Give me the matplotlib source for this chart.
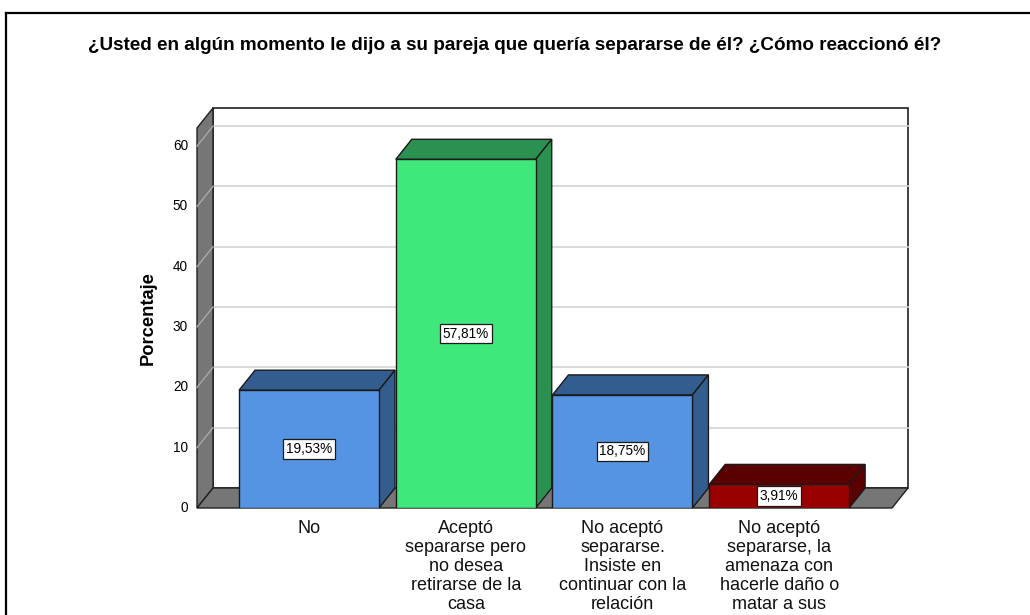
import matplotlib
matplotlib.use("Agg")
import matplotlib.pyplot as plt
from matplotlib.patches import Polygon, Rectangle
from matplotlib.transforms import ScaledTranslation

plt.rcParams['font.family'] = ['Liberation Sans', 'DejaVu Sans']

title = "¿Usted en algún momento le dijo a su pareja que quería separarse de él? ¿Cómo reaccionó él?"
categories = ["No",
              "Aceptó\nsepararse pero\nno desea\nretirarse de la\ncasa",
              "No aceptó\nsepararse.\nInsiste en\ncontinuar con la\nrelación",
              "No aceptó\nsepararse, la\namenaza con\nhacerle daño o\nmatar a sus"]
values = [19.53, 57.81, 18.75, 3.91]
value_labels = ["19,53%", "57,81%", "18,75%", "3,91%"]
yticks = [0, 10, 20, 30, 40, 50, 60]
ylabel = "Porcentaje"

front_colors = ["#5494E2", "#40E87C", "#5494E2", "#990000"]
dark_colors = ["#345D8F", "#2B9150", "#345D8F", "#5A0000"]

W, H = 1030, 615
fig = plt.figure(figsize=(W / 100, H / 100), dpi=100)

# frame border
fig.add_artist(plt.Line2D([6 / W, 6 / W], [0, 1 - 13 / H], color="black", lw=1.6))
fig.add_artist(plt.Line2D([6 / W, 1], [1 - 13 / H, 1 - 13 / H], color="black", lw=1.6))

fig.text(0.5, 1 - 45 / H, title, ha="center", va="center", fontsize=13.6, fontweight="bold")

x0, x1 = 197, 892
ybot, ytop = 508, 128
ax = fig.add_axes([x0 / W, 1 - ybot / H, (x1 - x0) / W, (ybot - ytop) / H])
ymax = 63
xmin, xmax = -0.715, 3.72
ax.set_xlim(xmin, xmax)
ax.set_ylim(0, ymax)
ax.axis("off")

dxp, dyp = 16, 20
back = ax.transData + ScaledTranslation(dxp / 100, dyp / 100, fig.dpi_scale_trans)

# back wall
ax.add_patch(Rectangle((xmin, 0), xmax - xmin, ymax, transform=back,
                       facecolor="white", edgecolor="#202020", lw=1.2, zorder=1, clip_on=False))
for t in yticks[1:]:
    ax.plot([xmin, xmax], [t, t], transform=back, color="#d4d4d4", lw=1.2, zorder=2, clip_on=False)

inv = ax.transData.inverted()
def poly_from_display(pts, **kw):
    data_pts = inv.transform(pts)
    ax.add_patch(Polygon(data_pts, closed=True, clip_on=False, **kw))

def make_polys():
    # left wall
    fl0 = ax.transData.transform((xmin, 0))
    fl1 = ax.transData.transform((xmin, ymax))
    poly_from_display([fl0, fl1, (fl1[0] + dxp, fl1[1] + dyp), (fl0[0] + dxp, fl0[1] + dyp)],
                      facecolor="#767676", edgecolor="#202020", lw=1.0, zorder=2)
    for t in yticks[1:]:
        a = ax.transData.transform((xmin, t))
        pts = inv.transform([a, (a[0] + dxp, a[1] + dyp)])
        ax.plot(pts[:, 0], pts[:, 1], color="#a8a8a8", lw=1.0, zorder=2.5, clip_on=False)
    # floor
    fr0 = ax.transData.transform((xmax, 0))
    poly_from_display([fl0, fr0, (fr0[0] + dxp, fr0[1] + dyp), (fl0[0] + dxp, fl0[1] + dyp)],
                      facecolor="#767676", edgecolor="#202020", lw=1.0, zorder=2)
    # bars
    bw = 0.893
    for i, v in enumerate(values):
        l, r = i - bw / 2, i + bw / 2
        tl = ax.transData.transform((l, v))
        tr = ax.transData.transform((r, v))
        br = ax.transData.transform((r, 0))
        poly_from_display([tl, tr, (tr[0] + dxp, tr[1] + dyp), (tl[0] + dxp, tl[1] + dyp)],
                          facecolor=dark_colors[i], edgecolor="#1a1a1a", lw=1.0, zorder=4)
        poly_from_display([br, tr, (tr[0] + dxp, tr[1] + dyp), (br[0] + dxp, br[1] + dyp)],
                          facecolor=dark_colors[i], edgecolor="#1a1a1a", lw=1.0, zorder=4)
    ax.bar(range(len(values)), values, width=bw, color=front_colors, edgecolor="#1a1a1a",
           linewidth=1.0, zorder=5)
    for i, v in enumerate(values):
        ax.text(i, v / 2, value_labels[i], ha="center", va="center", fontsize=9.8, zorder=6,
                bbox=dict(boxstyle="square,pad=0.2", facecolor="white", edgecolor="#1a1a1a", lw=0.9))

make_polys()

# y tick labels
for t in yticks:
    ax.text(xmin, t, str(t), transform=ax.transData + ScaledTranslation(-9 / 100, 0, fig.dpi_scale_trans),
            ha="right", va="center", fontsize=9.8)
ax.text(xmin, ymax / 2, ylabel, transform=ax.transData + ScaledTranslation(-49 / 100, 0, fig.dpi_scale_trans),
        ha="center", va="center", rotation=90, fontsize=13.2, fontweight="bold")

# category labels
for i, c in enumerate(categories):
    ax.text(i, 0, c, transform=ax.transData + ScaledTranslation(0, -12 / 100, fig.dpi_scale_trans),
            ha="center", va="top", fontsize=13, linespacing=1.15, color="#111111")

fig.savefig("out.png", dpi=100)
